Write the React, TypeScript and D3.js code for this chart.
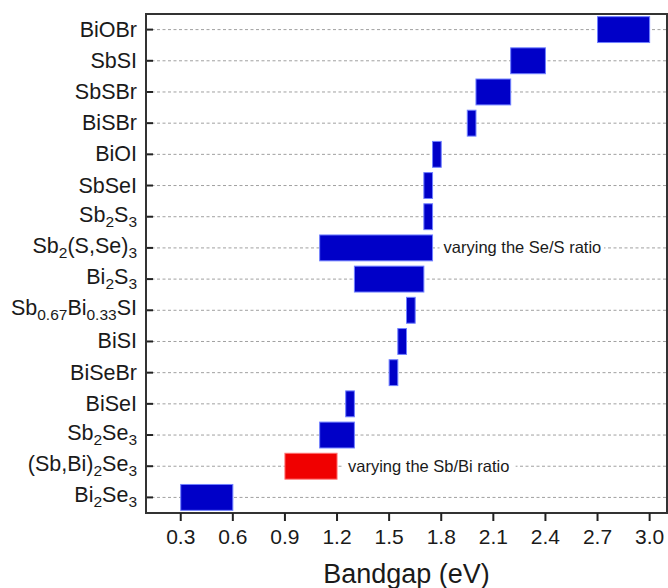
import React from "react";
import * as d3 from "d3";

const categories = [
  "BiOBr", "SbSI", "SbSBr", "BiSBr", "BiOI", "SbSeI", "Sb_{2}S_{3}", "Sb_{2}(S,Se)_{3}",
  "Bi_{2}S_{3}", "Sb_{0.67}Bi_{0.33}SI", "BiSI", "BiSeBr", "BiSeI", "Sb_{2}Se_{3}",
  "(Sb,Bi)_{2}Se_{3}", "Bi_{2}Se_{3}",
];
const lowValues = [2.7, 2.2, 2.0, 1.95, 1.75, 1.7, 1.7, 1.1, 1.3, 1.6, 1.55, 1.5, 1.25, 1.1, 0.9, 0.3];
const highValues = [3.0, 2.4, 2.2, 2.0, 1.8, 1.75, 1.75, 1.75, 1.7, 1.65, 1.6, 1.55, 1.3, 1.3, 1.2, 0.6];
const groups = ["blue", "blue", "blue", "blue", "blue", "blue", "blue", "blue", "blue", "blue", "blue", "blue", "blue", "blue", "red", "blue"];
const annotationCategories = ["Sb_{2}(S,Se)_{3}", "(Sb,Bi)_{2}Se_{3}"];
const annotationTexts = ["varying the Se/S ratio", "varying the Sb/Bi ratio"];
const xTicks = [0.3, 0.6, 0.9, 1.2, 1.5, 1.8, 2.1, 2.4, 2.7, 3.0];
const xDomain = [0.1, 3.1];
const xTitle = "Bandgap (eV)";

const W = 668, H = 588;
const M = { left: 146, right: 667, top: 14, bottom: 513 };
const FONT = "'Liberation Sans', Arial, Helvetica, sans-serif";
const fills: Record<string, string> = { blue: "#0000c8", red: "#f00000" };
const strokes: Record<string, string> = { blue: "#7080ff", red: "#ff7070" };

function parseLabel(s: string) {
  const parts: { t: string; sub: boolean }[] = [];
  const re = /_\{([^}]*)\}/g;
  let last = 0;
  let m: RegExpExecArray | null;
  while ((m = re.exec(s))) {
    if (m.index > last) parts.push({ t: s.slice(last, m.index), sub: false });
    parts.push({ t: m[1], sub: true });
    last = m.index + m[0].length;
  }
  if (last < s.length) parts.push({ t: s.slice(last), sub: false });
  return parts;
}

function Label({ text, x, y }: { text: string; x: number; y: number }) {
  const parts = parseLabel(text);
  const hasSub = parts.some((p) => p.sub);
  const base = y + (hasSub ? 5 : 7);
  let state = false;
  return (
    <text x={x} y={base} textAnchor="end" fontFamily={FONT} fontSize={21.5} fill="#1a1a1a">
      {parts.map((p, i) => {
        let dy = 0;
        if (p.sub && !state) dy = 5;
        if (!p.sub && state) dy = -5;
        state = p.sub;
        return (
          <tspan key={i} dy={dy} fontSize={p.sub ? 15.5 : 21.5}>
            {p.t}
          </tspan>
        );
      })}
    </text>
  );
}

export default function App() {
  const x = d3.scaleLinear().domain(xDomain).range([M.left, M.right]);
  const y = d3.scalePoint<string>().domain(categories).range([M.top, M.bottom]).padding(0.5);
  const step = y.step();
  const barH = step * 0.83;

  return (
    <svg width={W} height={H} style={{ position: "absolute", left: 0, top: 0, background: "#fff" }}>
      {categories.map((c) => (
        <line key={"g" + c} x1={M.left} x2={M.right} y1={y(c)} y2={y(c)} stroke="#a0a0a0" strokeWidth={1} strokeDasharray="3,2.5" />
      ))}
      {categories.map((c) => (
        <line key={"t" + c} x1={M.left} x2={M.left + 7} y1={y(c)} y2={y(c)} stroke="#222" strokeWidth={2} />
      ))}
      {categories.map((c, i) => (
        <rect
          key={"b" + c}
          x={x(lowValues[i])}
          y={(y(c) as number) - barH / 2}
          width={x(highValues[i]) - x(lowValues[i])}
          height={barH}
          fill={fills[groups[i]]}
          stroke={strokes[groups[i]]}
          strokeWidth={1}
        />
      ))}
      {annotationCategories.map((c, k) => {
        const i = categories.indexOf(c);
        const tx = x(highValues[i]) + 11;
        const ty = y(c) as number;
        const w = annotationTexts[k].length * 7.2;
        return (
          <g key={"a" + k}>
            <rect x={tx - 4} y={ty - 9} width={w + 6} height={18} fill="#fff" />
            <text x={tx} y={ty + 5.5} fontFamily={FONT} fontSize={16.5} fill="#1a1a1a">
              {annotationTexts[k]}
            </text>
          </g>
        );
      })}
      <rect x={M.left} y={M.top} width={M.right - M.left} height={M.bottom - M.top} fill="none" stroke="#333" strokeWidth={2} />
      {xTicks.map((t) => (
        <g key={"x" + t}>
          <line x1={x(t)} x2={x(t)} y1={M.bottom} y2={M.bottom + 8} stroke="#222" strokeWidth={2} />
          <text x={x(t)} y={M.bottom + 31} textAnchor="middle" fontFamily={FONT} fontSize={21} fill="#1a1a1a">
            {d3.format(".1f")(t)}
          </text>
        </g>
      ))}
      <text x={(M.left + M.right) / 2} y={583} textAnchor="middle" fontFamily={FONT} fontSize={27} fill="#1a1a1a">
        {xTitle}
      </text>
      {categories.map((c) => (
        <Label key={"l" + c} text={c} x={137} y={y(c) as number} />
      ))}
    </svg>
  );
}
